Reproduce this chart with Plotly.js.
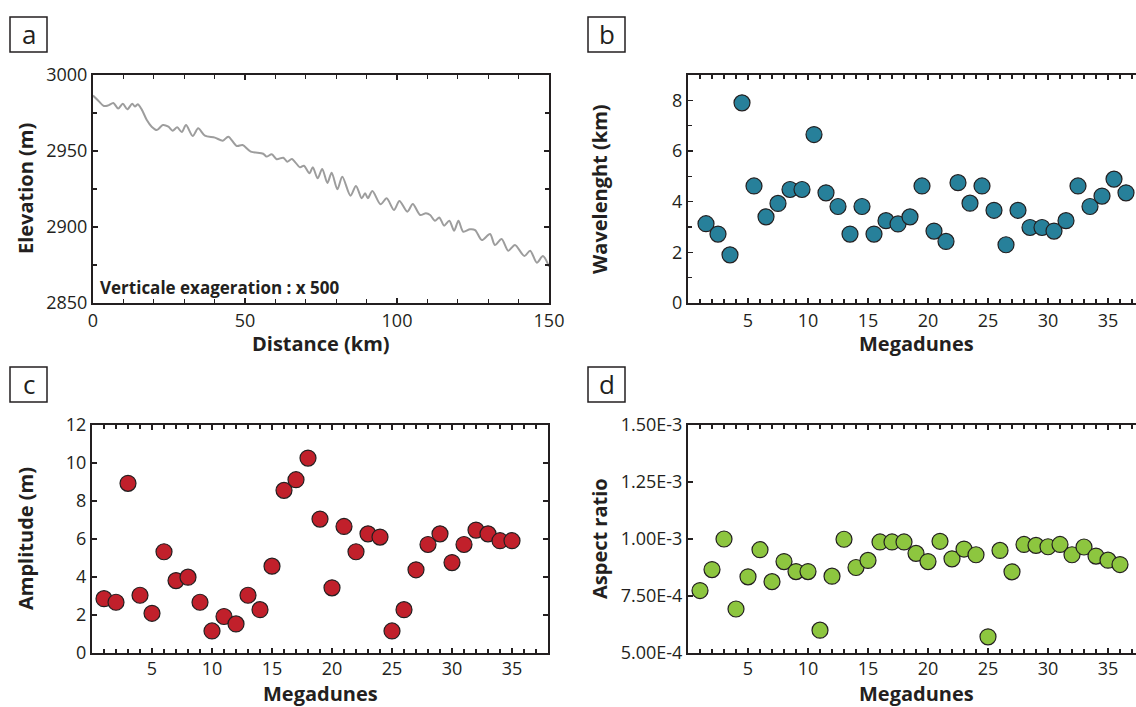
<!DOCTYPE html>
<html>
<head>
<meta charset="utf-8">
<script src="https://cdn.plot.ly/plotly-3.0.1.min.js"></script>
<style>
html,body{margin:0;padding:0;overflow:hidden;background:#fff;}
#chart{width:1144px;height:707px;}
</style>
</head>
<body>
<div id="chart"></div>
<script>
// ---- Panel a: elevation profile ----
const distanceKm = [0, 1.75, 3.6, 5.0, 6.7, 8.3, 9.8, 11.3, 12.9, 13.8, 14.7, 16.0, 17.7, 19.3, 21.0, 23.0, 24.8, 26.2, 27.7, 29.2, 30.6, 32.8, 34.6, 36.8, 40.1, 42.7, 44.5, 47.3, 49.2, 51.9, 56.0, 57.1, 58.8, 60.4, 62.6, 63.9, 65.4, 68.1, 69.4, 71.2, 72.3, 73.9, 75.4, 77.1, 78.5, 80.4, 82.0, 84.7, 86.5, 88.4, 89.5, 90.4, 91.9, 94.6, 96.6, 99.0, 100.8, 103.4, 105.2, 107.6, 109.5, 110.9, 112.5, 113.9, 115.5, 117.2, 118.8, 120.2, 121.8, 124.0, 125.7, 127.9, 130.6, 132.2, 134.4, 136.6, 138.8, 141.9, 143.8, 146.0, 148.0, 150.0];
const elevationM = [2986.5, 2983.1, 2979.6, 2980.0, 2981.6, 2977.9, 2981.1, 2977.4, 2981.1, 2979.2, 2980.7, 2977.4, 2970.4, 2966.0, 2963.8, 2967.1, 2966.0, 2963.4, 2965.6, 2962.5, 2967.1, 2959.9, 2964.9, 2960.1, 2958.8, 2956.8, 2959.4, 2953.3, 2953.9, 2949.6, 2948.2, 2946.3, 2947.8, 2944.6, 2945.6, 2943.0, 2944.7, 2939.3, 2940.3, 2935.3, 2939.3, 2932.0, 2938.2, 2929.0, 2935.7, 2924.8, 2933.1, 2920.6, 2927.0, 2918.9, 2922.2, 2918.9, 2923.7, 2914.9, 2918.9, 2911.2, 2917.1, 2910.1, 2915.1, 2907.9, 2909.0, 2907.9, 2904.1, 2906.3, 2900.9, 2904.1, 2897.6, 2904.1, 2896.9, 2898.5, 2898.0, 2891.4, 2895.4, 2888.2, 2892.1, 2884.4, 2888.2, 2880.9, 2884.4, 2876.5, 2880.9, 2874.0];

// ---- Panel b: wavelength ----
const duneB = [1.5, 2.5, 3.5, 4.5, 5.5, 6.5, 7.5, 8.5, 9.5, 10.5, 11.5, 12.5, 13.5, 14.5, 15.5, 16.5, 17.5, 18.5, 19.5, 20.5, 21.5, 22.5, 23.5, 24.5, 25.5, 26.5, 27.5, 28.5, 29.5, 30.5, 31.5, 32.5, 33.5, 34.5, 35.5, 36.5];
const wavelengthKm = [3.13, 2.72, 1.90, 7.90, 4.62, 3.40, 3.93, 4.48, 4.48, 6.65, 4.35, 3.81, 2.72, 3.81, 2.72, 3.25, 3.12, 3.40, 4.62, 2.84, 2.43, 4.75, 3.94, 4.62, 3.66, 2.30, 3.66, 2.98, 2.98, 2.84, 3.25, 4.62, 3.81, 4.22, 4.89, 4.35];

// ---- Panel c: amplitude ----
const duneC = [1, 2, 3, 4, 5, 6, 7, 8, 9, 10, 11, 12, 13, 14, 15, 16, 17, 18, 19, 20, 21, 22, 23, 24, 25, 26, 27, 28, 29, 30, 31, 32, 33, 34, 35];
const amplitudeM = [2.86, 2.67, 8.93, 3.04, 2.09, 5.33, 3.81, 3.99, 2.67, 1.16, 1.92, 1.53, 3.04, 2.28, 4.57, 8.56, 9.12, 10.26, 7.05, 3.43, 6.66, 5.33, 6.27, 6.10, 1.16, 2.28, 4.38, 5.71, 6.27, 4.76, 5.71, 6.47, 6.27, 5.91, 5.91];

// ---- Panel d: aspect ratio ----
const duneD = [1, 2, 3, 4, 5, 6, 7, 8, 9, 10, 11, 12, 13, 14, 15, 16, 17, 18, 19, 20, 21, 22, 23, 24, 25, 26, 27, 28, 29, 30, 31, 32, 33, 34, 35, 36];
const aspectRatio = [7.74e-4, 8.66e-4, 1.0e-3, 6.93e-4, 8.34e-4, 9.53e-4, 8.13e-4, 9.01e-4, 8.57e-4, 8.57e-4, 6.0e-4, 8.37e-4, 9.99e-4, 8.75e-4, 9.06e-4, 9.87e-4, 9.87e-4, 9.87e-4, 9.37e-4, 9.01e-4, 9.90e-4, 9.13e-4, 9.56e-4, 9.31e-4, 5.71e-4, 9.50e-4, 8.56e-4, 9.76e-4, 9.72e-4, 9.66e-4, 9.76e-4, 9.31e-4, 9.65e-4, 9.25e-4, 9.07e-4, 8.88e-4];

// tick labels
const profileXTicks = [0, 50, 100, 150];
const profileYTicks = [2850, 2900, 2950, 3000];
const duneTicks = [5, 10, 15, 20, 25, 30, 35];
const wavelengthTicks = [0, 2, 4, 6, 8];
const amplitudeTicks = [0, 2, 4, 6, 8, 10, 12];
const aspectTicks = [5.0e-4, 7.5e-4, 1.0e-3, 1.25e-3, 1.5e-3];
const aspectTickText = ["5.00E-4", "7.50E-4", "1.00E-3", "1.25E-3", "1.50E-3"];

const W = 1144, H = 707;
const px = x => x / W;
const py = y => 1 - y / H;
const INK = '#231f20';
const FONT = 'Open Sans, sans-serif';

function axisBase(extra) {
  return Object.assign({
    showline: true, linecolor: INK, linewidth: 2, mirror: 'ticks',
    ticks: 'inside', ticklen: 5, tickwidth: 1.5, tickcolor: INK,
    showgrid: false, zeroline: false, fixedrange: true,
    tickfont: {family: FONT, size: 18, color: INK}
  }, extra);
}
const minorT = d => ({dtick: d, ticks: 'inside', ticklen: 4, tickwidth: 1.3, tickcolor: INK, showgrid: false});

const markerBase = c => ({size: 16, color: c, line: {color: INK, width: 1.2}});

const traces = [
  {x: distanceKm, y: elevationM, xaxis: 'x', yaxis: 'y', mode: 'lines', type: 'scatter',
   line: {color: '#9d9d9d', width: 2, shape: 'spline', smoothing: 0.8}, hoverinfo: 'skip'},
  {x: duneB, y: wavelengthKm, xaxis: 'x2', yaxis: 'y2', mode: 'markers', type: 'scatter',
   marker: markerBase('#27809a'), cliponaxis: false},
  {x: duneC, y: amplitudeM, xaxis: 'x3', yaxis: 'y3', mode: 'markers', type: 'scatter',
   marker: markerBase('#c1202b'), cliponaxis: false},
  {x: duneD, y: aspectRatio, xaxis: 'x4', yaxis: 'y4', mode: 'markers', type: 'scatter',
   marker: markerBase('#8dc63f'), cliponaxis: false}
];

const titleFont = {family: FONT, size: 20, color: INK, weight: 700};
function ttl(text, x, y, angle) {
  return {text: text, xref: 'paper', yref: 'paper', x: px(x), y: py(y), xanchor: 'center', yanchor: 'middle',
          showarrow: false, textangle: angle || 0, font: titleFont};
}
function panelLabel(letter, x0, y0) {
  return {text: letter, xref: 'paper', yref: 'paper', x: px(x0 + 18.5), y: py(y0 + 17), xanchor: 'center', yanchor: 'middle',
          showarrow: false, font: {family: FONT, size: 26, color: INK}};
}
function box(x0, y0) {
  return {type: 'rect', xref: 'paper', yref: 'paper', x0: px(x0), x1: px(x0 + 37), y0: py(y0), y1: py(y0 + 35),
          line: {color: INK, width: 1.5}, fillcolor: 'rgba(0,0,0,0)'};
}

const layout = {
  width: W, height: H, showlegend: false,
  margin: {l: 0, r: 0, t: 0, b: 0},
  paper_bgcolor: '#fff', plot_bgcolor: '#fff',
  font: {family: FONT, color: INK},
  xaxis: axisBase({domain: [px(93), px(549)], range: [0, 150], tickvals: profileXTicks, minor: minorT(10), anchor: 'y'}),
  yaxis: axisBase({domain: [py(303), py(75)], range: [2850, 3000], tickvals: profileYTicks, minor: minorT(25), anchor: 'x'}),
  xaxis2: axisBase({domain: [px(688), 1], range: [0, 38], tickvals: duneTicks, minor: minorT(1), anchor: 'y2'}),
  yaxis2: axisBase({domain: [py(303), py(75)], range: [0, 9], tickvals: wavelengthTicks, minor: minorT(1), anchor: 'x2'}),
  xaxis3: axisBase({domain: [px(92), px(548)], range: [0, 38], tickvals: duneTicks, minor: minorT(1), anchor: 'y3', ticklabelstandoff: -2}),
  yaxis3: axisBase({domain: [py(653), py(425)], range: [0, 12], tickvals: amplitudeTicks, anchor: 'x3'}),
  xaxis4: axisBase({domain: [px(688), 1], range: [0, 38], tickvals: duneTicks, minor: minorT(1), anchor: 'y4', ticklabelstandoff: -2}),
  yaxis4: axisBase({domain: [py(653), py(425)], range: [5.0e-4, 1.5e-3], tickvals: aspectTicks, ticktext: aspectTickText, anchor: 'x4'}),
  shapes: [box(10, 17), box(588, 17), box(10, 367), box(588, 367)],
  annotations: [
    panelLabel('a', 10, 17), panelLabel('b', 588, 17), panelLabel('c', 10, 367), panelLabel('d', 588, 367),
    ttl('Elevation (m)', 25, 189, -90),
    ttl('Distance (km)', 321, 344),
    ttl('Wavelenght (km)', 599, 189, -90),
    ttl('Megadunes', 916, 344),
    ttl('Amplitude (m)', 25, 539, -90),
    ttl('Megadunes', 320, 693),
    ttl('Aspect ratio', 599, 539, -90),
    ttl('Megadunes', 916, 693),
    {text: 'Verticale exageration : x 500', xref: 'paper', yref: 'paper', x: px(98), y: py(287),
     xanchor: 'left', yanchor: 'middle', showarrow: false, font: {family: FONT, size: 17, color: INK, weight: 700}}
  ]
};

Plotly.newPlot('chart', traces, layout, {staticPlot: true, displayModeBar: false});
</script>
</body>
</html>
